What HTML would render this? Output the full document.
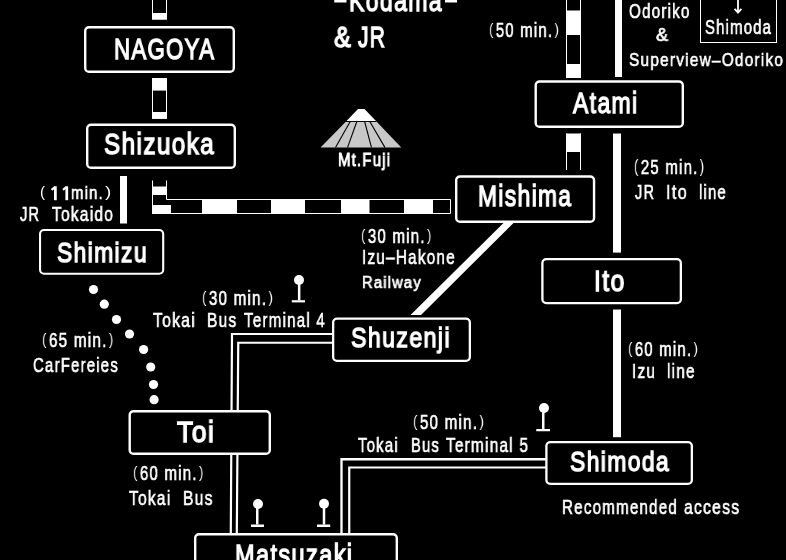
<!DOCTYPE html>
<html><head><meta charset="utf-8"><style>
html,body{margin:0;padding:0;background:#000;width:786px;height:560px;overflow:hidden;position:relative}
.bx{position:absolute;box-sizing:border-box;border:2px solid #fff;background:#000}
.t{position:absolute;white-space:pre;color:#fff;font-family:"Liberation Sans",sans-serif;line-height:1;transform-origin:0 0}
.t{position:absolute;white-space:pre;color:#fff;font-family:"Liberation Sans",sans-serif;line-height:1;transform-origin:0 0;will-change:transform}
.b{font-weight:normal;-webkit-text-stroke:1.4px #fff;letter-spacing:0.06em}
.r{font-weight:normal;-webkit-text-stroke:0.65px #fff;letter-spacing:0.08em}
.p{font-size:0.85em;position:relative;top:-0.125em;-webkit-text-stroke:0}
</style></head><body>
<svg width="786" height="560" style="position:absolute;left:0;top:0"><rect x="152.5" y="-4.5" width="14" height="23.5" fill="#000" stroke="#fff" stroke-width="1"/><rect x="152" y="13" width="15" height="6.5" fill="#fff"/><rect x="152.5" y="78.5" width="14" height="39.75" fill="#000" stroke="#fff" stroke-width="1"/><rect x="152" y="78" width="15" height="12.599999999999994" fill="#fff"/><rect x="152" y="112" width="15" height="6.75" fill="#fff"/><rect x="152" y="180.5" width="15" height="33.5" fill="#000"/><rect x="167" y="199" width="284" height="15" fill="#000"/><path d="M152.5 180.5 V213.5 H450.5 V199.5 H166.5 V180.5" fill="none" stroke="#fff" stroke-width="1"/><rect x="152" y="186.5" width="15" height="8.5" fill="#fff"/><rect x="152" y="205" width="19" height="9" fill="#fff"/><rect x="202" y="199" width="35" height="15" fill="#fff"/><rect x="271" y="199" width="34" height="15" fill="#fff"/><rect x="341" y="199" width="28.5" height="15" fill="#fff"/><rect x="404" y="199" width="29" height="15" fill="#fff"/><rect x="566.5" y="-4.5" width="14" height="82" fill="#000" stroke="#fff" stroke-width="1"/><rect x="566" y="10.5" width="15" height="24.5" fill="#fff"/><rect x="566" y="64" width="15" height="14" fill="#fff"/><path d="M566.5 133.5 V170 M580.5 133.5 V170" stroke="#fff" stroke-width="1" fill="none"/><rect x="566" y="133.5" width="15" height="18.5" fill="#fff"/><rect x="615" y="0" width="7" height="77" fill="#fff"/><rect x="613" y="133.5" width="8" height="119.1" fill="#fff"/><rect x="613" y="309.5" width="8" height="127.69999999999999" fill="#fff"/><rect x="120" y="176" width="7" height="47.5" fill="#fff"/><polygon points="503.5,223 513.5,223 421,315 410.5,315" fill="#fff"/><path d="M340 334 H232 L230.75 540" stroke="#fff" stroke-width="2.2" fill="none"/><path d="M340 342.75 H238.25 L236.75 540" stroke="#fff" stroke-width="2.2" fill="none"/><path d="M550 459.25 H341.5 V540" stroke="#fff" stroke-width="2.3" fill="none"/><path d="M550 467.5 H349.25 V540" stroke="#fff" stroke-width="2.2" fill="none"/><circle cx="93.5" cy="289.5" r="4.6" fill="#fff"/><circle cx="104.3" cy="304.2" r="4.6" fill="#fff"/><circle cx="116.5" cy="319.5" r="4.6" fill="#fff"/><circle cx="129.5" cy="334" r="4.6" fill="#fff"/><circle cx="143.6" cy="349.5" r="4.6" fill="#fff"/><circle cx="150.7" cy="367" r="4.6" fill="#fff"/><circle cx="153.5" cy="384.5" r="4.6" fill="#fff"/><circle cx="154.1" cy="399.7" r="4.6" fill="#fff"/><circle cx="299" cy="280" r="5" fill="#fff"/><rect x="297.9" y="283" width="2.5" height="17.19999999999999" fill="#fff"/><rect x="291.8" y="300.2" width="13.199999999999989" height="2.1999999999999886" fill="#fff"/><circle cx="544" cy="408" r="5" fill="#fff"/><rect x="542" y="411" width="2.5" height="18" fill="#fff"/><rect x="536.25" y="429" width="13.75" height="2.25" fill="#fff"/><circle cx="258" cy="504" r="5" fill="#fff"/><rect x="256" y="507" width="2.5" height="17.5" fill="#fff"/><rect x="251" y="524.5" width="13" height="2.5" fill="#fff"/><circle cx="324" cy="503.7" r="5" fill="#fff"/><rect x="322.75" y="506.7" width="2.5" height="17.80000000000001" fill="#fff"/><rect x="317" y="524.5" width="13.199999999999989" height="2.5" fill="#fff"/><polygon points="358,109 364.5,109 376,121 346.5,121" fill="#fff"/><polygon points="346.5,121 376,121 401.3,147.6 320.5,147.6" fill="#c8c8c8"/><path d="M346 121.5 H376.5" stroke="#000" stroke-width="1"/><path d="M350.5 121 L335.5 147.6" stroke="#000" stroke-width="1.1"/><path d="M357 121 L347.5 147.6" stroke="#000" stroke-width="1.1"/><path d="M364.5 121 L371.5 147.6" stroke="#000" stroke-width="1.1"/><path d="M369.5 121 L385 147.6" stroke="#000" stroke-width="1.1"/><rect x="334.25" y="-1" width="12.25" height="3.5" fill="#fff"/><rect x="445" y="-1" width="12" height="3.5" fill="#fff"/><rect x="54" y="186.3" width="2.75" height="13.899999999999977" fill="#fff"/><path d="M51.6 189.9 L55.2 186.9" stroke="#fff" stroke-width="2.1"/><rect x="65.4" y="186.3" width="2.75" height="13.899999999999977" fill="#fff"/><path d="M63.0 189.9 L66.60000000000001 186.9" stroke="#fff" stroke-width="2.1"/><path d="M738 -2 V12.5" stroke="#fff" stroke-width="1.8"/><path d="M734.6 8.8 L738 12.6 L741.4 8.8" stroke="#fff" stroke-width="1.8" fill="none"/><rect x="85.2" y="27.2" width="148.6" height="44.6" rx="3.8" fill="#000" stroke="#fff" stroke-width="2.4"/><rect x="87.2" y="124.7" width="147.6" height="43.1" rx="3.8" fill="#000" stroke="#fff" stroke-width="2.4"/><rect x="535.7" y="81.45" width="147.1" height="45.35" rx="3.8" fill="#000" stroke="#fff" stroke-width="2.4"/><rect x="456.2" y="176.45" width="137.85" height="45.35" rx="3.8" fill="#000" stroke="#fff" stroke-width="2.4"/><rect x="40.05" y="230.05" width="123.15" height="43.65" rx="3.95" fill="#000" stroke="#fff" stroke-width="2.1"/><rect x="542.4" y="259.15" width="138.45" height="43.95" rx="3.85" fill="#000" stroke="#fff" stroke-width="2.3"/><rect x="333.15" y="318.65" width="136.7" height="42.2" rx="3.85" fill="#000" stroke="#fff" stroke-width="2.3"/><rect x="129.7" y="411.2" width="140.1" height="42.6" rx="3.8" fill="#000" stroke="#fff" stroke-width="2.4"/><rect x="546.4" y="442.15" width="145.45" height="41.7" rx="3.85" fill="#000" stroke="#fff" stroke-width="2.3"/><rect x="195.2" y="534.2" width="201.6" height="47.6" rx="3.8" fill="#000" stroke="#fff" stroke-width="2.4"/><rect x="700.5" y="-5" width="76" height="47.5" fill="none" stroke="#fff" stroke-width="1"/></svg>
<div class="t b" style="left:348.96px;top:-14.15px;font-size:29.94px;transform:scaleX(0.7689)">Kodama</div>
<div class="t b" style="left:334.22px;top:22.35px;font-size:29.94px;transform:scaleX(0.8392)">&amp;</div>
<div class="t b" style="left:358.49px;top:22.35px;font-size:29.94px;transform:scaleX(0.7022)">JR</div>
<div class="t r" style="left:489.20px;top:20.81px;font-size:19.84px;transform:scaleX(0.7560)"><span class="p" style="margin-right:.1em">(</span>50 min.<span class="p" style="margin-left:.1em">)</span></div>
<div class="t r" style="left:629.05px;top:2.43px;font-size:19.70px;transform:scaleX(0.7696)">Odoriko</div>
<div class="t r" style="left:655.80px;top:26.30px;font-size:18.68px;transform:scaleX(0.9680)">&amp;</div>
<div class="t r" style="left:628.64px;top:50.43px;font-size:19.11px;transform:scaleX(0.8050)">Superview–Odoriko</div>
<div class="t r" style="left:705.04px;top:18.18px;font-size:19.40px;transform:scaleX(0.7677)">Shimoda</div>
<div class="t b" style="left:113.52px;top:33.85px;font-size:29.94px;transform:scaleX(0.7408)">NAGOYA</div>
<div class="t b" style="left:103.68px;top:128.85px;font-size:29.94px;transform:scaleX(0.8087)">Shizuoka</div>
<div class="t b" style="left:573.32px;top:88.15px;font-size:29.94px;transform:scaleX(0.7655)">Atami</div>
<div class="t r" style="left:337.68px;top:151.40px;font-size:18.97px;transform:scaleX(0.7895);-webkit-text-stroke:0.95px #fff">Mt.Fuji</div>
<div class="t r" style="left:634.21px;top:157.21px;font-size:20.55px;transform:scaleX(0.7331)"><span class="p" style="margin-right:.1em">(</span>25 min.<span class="p" style="margin-left:.1em">)</span></div>
<div class="t r" style="left:634.96px;top:181.56px;font-size:20.13px;transform:scaleX(0.7250)">JR</div>
<div class="t r" style="left:665.88px;top:181.56px;font-size:20.13px;transform:scaleX(0.8070)">Ito</div>
<div class="t r" style="left:699.21px;top:181.56px;font-size:20.13px;transform:scaleX(0.7362)">line</div>
<div class="t r" style="left:39.52px;top:184.64px;font-size:17.69px;transform:scaleX(0.9808)"><span class="p" style="margin-right:.1em">(</span></div>
<div class="t r" style="left:71.31px;top:184.64px;font-size:17.69px;transform:scaleX(0.8415)">min.</div>
<div class="t r" style="left:103.40px;top:184.64px;font-size:17.69px;transform:scaleX(1.2550)"><span class="p" style="margin-left:.1em">)</span></div>
<div class="t r" style="left:19.98px;top:204.68px;font-size:19.40px;transform:scaleX(0.7529)">JR</div>
<div class="t r" style="left:52.42px;top:204.68px;font-size:19.40px;transform:scaleX(0.8005)">Tokaido</div>
<div class="t b" style="left:478.48px;top:181.35px;font-size:29.94px;transform:scaleX(0.7610)">Mishima</div>
<div class="t b" style="left:56.84px;top:237.81px;font-size:28.34px;transform:scaleX(0.8072)">Shimizu</div>
<div class="t r" style="left:360.70px;top:226.81px;font-size:19.84px;transform:scaleX(0.7616)"><span class="p" style="margin-right:.1em">(</span>30 min.<span class="p" style="margin-left:.1em">)</span></div>
<div class="t r" style="left:361.65px;top:247.06px;font-size:20.13px;transform:scaleX(0.7608)">Izu–Hakone</div>
<div class="t r" style="left:361.71px;top:274.77px;font-size:15.77px;transform:scaleX(0.9341)">Railway</div>
<div class="t b" style="left:593.79px;top:267.44px;font-size:28.78px;transform:scaleX(0.8525)">Ito</div>
<div class="t r" style="left:201.69px;top:289.31px;font-size:19.84px;transform:scaleX(0.7671)"><span class="p" style="margin-right:.1em">(</span>30 min.<span class="p" style="margin-left:.1em">)</span></div>
<div class="t r" style="left:153.42px;top:309.56px;font-size:20.13px;transform:scaleX(0.7813)">Tokai</div>
<div class="t r" style="left:207.09px;top:309.56px;font-size:20.13px;transform:scaleX(0.7722)">Bus</div>
<div class="t r" style="left:244.42px;top:309.56px;font-size:20.13px;transform:scaleX(0.7533)">Terminal 4</div>
<div class="t b" style="left:350.52px;top:323.38px;font-size:28.49px;transform:scaleX(0.8130)">Shuzenji</div>
<div class="t r" style="left:42.19px;top:331.31px;font-size:19.84px;transform:scaleX(0.7716)"><span class="p" style="margin-right:.1em">(</span>65 min.<span class="p" style="margin-left:.1em">)</span></div>
<div class="t r" style="left:32.72px;top:355.68px;font-size:19.40px;transform:scaleX(0.7712)">CarFereies</div>
<div class="t r" style="left:627.70px;top:340.31px;font-size:19.84px;transform:scaleX(0.7560)"><span class="p" style="margin-right:.1em">(</span>60 min.<span class="p" style="margin-left:.1em">)</span></div>
<div class="t r" style="left:631.97px;top:362.18px;font-size:19.40px;transform:scaleX(0.7885)">Izu</div>
<div class="t r" style="left:666.66px;top:362.18px;font-size:19.40px;transform:scaleX(0.7908)">line</div>
<div class="t b" style="left:177.30px;top:416.94px;font-size:29.36px;transform:scaleX(0.8970)">Toi</div>
<div class="t r" style="left:412.69px;top:413.31px;font-size:19.84px;transform:scaleX(0.7671)"><span class="p" style="margin-right:.1em">(</span>50 min.<span class="p" style="margin-left:.1em">)</span></div>
<div class="t r" style="left:358.43px;top:436.18px;font-size:19.40px;transform:scaleX(0.7700)">Tokai</div>
<div class="t r" style="left:411.12px;top:436.18px;font-size:19.40px;transform:scaleX(0.7622)">Bus</div>
<div class="t r" style="left:446.43px;top:436.18px;font-size:19.40px;transform:scaleX(0.7917)">Terminal 5</div>
<div class="t b" style="left:569.53px;top:447.08px;font-size:28.49px;transform:scaleX(0.8046)">Shimoda</div>
<div class="t r" style="left:132.70px;top:464.31px;font-size:19.84px;transform:scaleX(0.7616)"><span class="p" style="margin-right:.1em">(</span>60 min.<span class="p" style="margin-left:.1em">)</span></div>
<div class="t r" style="left:129.42px;top:487.56px;font-size:20.13px;transform:scaleX(0.7718)">Tokai</div>
<div class="t r" style="left:182.58px;top:487.56px;font-size:20.13px;transform:scaleX(0.7777)">Bus</div>
<div class="t r" style="left:562.10px;top:498.18px;font-size:19.40px;transform:scaleX(0.7805)">Recommended</div>
<div class="t r" style="left:683.66px;top:498.18px;font-size:19.40px;transform:scaleX(0.8080)">access</div>
<div class="t b" style="left:235.13px;top:539.75px;font-size:29.94px;transform:scaleX(0.7848)">Matsuzaki</div>
</body></html>
